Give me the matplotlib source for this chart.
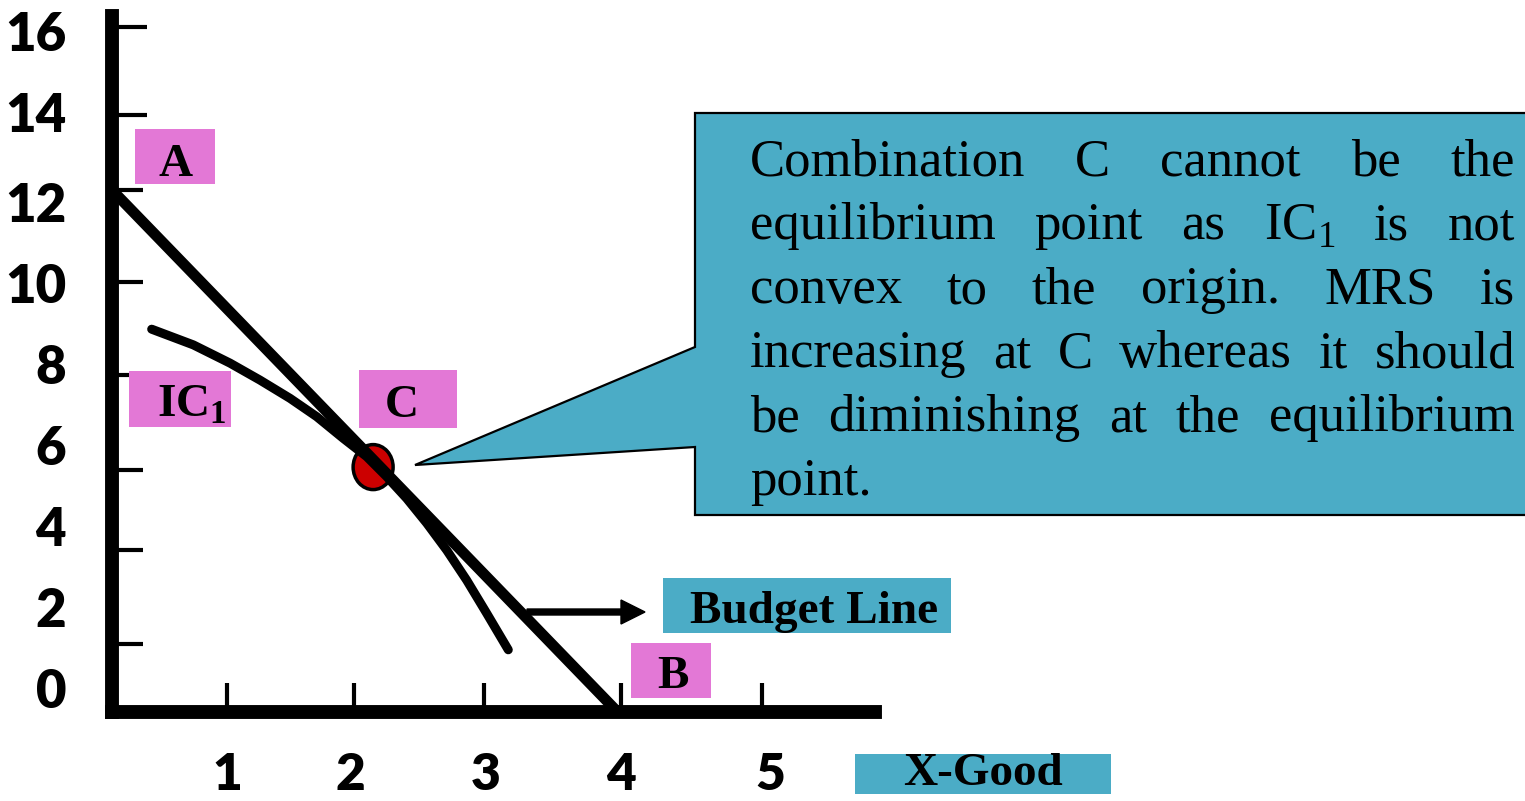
import matplotlib
matplotlib.use('Agg')
import matplotlib.pyplot as plt
from matplotlib.patches import Ellipse, Polygon, Rectangle

plt.rcParams['font.family'] = 'Lato'
plt.rcParams['mathtext.fontset'] = 'custom'
plt.rcParams['mathtext.rm'] = 'Liberation Serif'
plt.rcParams['mathtext.bf'] = 'Liberation Serif:bold'

# ---- chart values ----
budget_x = [0, 3.95]          # A -> B
budget_y = [12, 0]
ic_x = [0.310, 0.635, 0.922, 1.156, 1.391, 1.599, 1.807, 1.990,
        2.146, 2.302, 2.459, 2.615, 2.771, 2.927, 3.096]
ic_y = [8.80, 8.44, 8.02, 7.63, 7.21, 6.79, 6.29, 5.87,
        5.41, 4.91, 4.34, 3.72, 3.03, 2.27, 1.43]
point_c = (2.04, 5.63)

x_tick_marks = [0.90, 1.89, 2.91, 3.98, 5.08]
x_label_pos = [0.90, 1.86, 2.92, 3.98, 5.14]
x_labels = ['1', '2', '3', '4', '5']
y_tick_marks = [1.56, 3.72, 5.56, 7.75, 9.89, 12.0]
y_tick_marks_long = [13.72, 15.75]
y_label_pos = [0.55, 2.41, 4.28, 6.14, 8.0, 9.86, 11.72, 13.79, 15.66]
y_labels = ['0', '2', '4', '6', '8', '10', '12', '14', '16']

callout_lines = [
    "Combination C cannot be the",
    "equilibrium point as IC$_1$ is not",
    "convex to the origin. MRS is",
    "increasing at C whereas it should",
    "be diminishing at the equilibrium",
    "point.",
]

PINK = '#E378D6'
BLUE = '#4BACC6'
SERIF = 'Liberation Serif'

W, H = 1525, 801
fig = plt.figure(figsize=(W / 100, H / 100), dpi=100)

# data axes: y axis line at px 112, x axis line at px 712
ax = fig.add_axes([112 / W, (H - 712) / H, 763 / W, 696 / H])
ax.set_xlim(0, 763 / 128)
ax.set_ylim(0, 696 / 43.5)
ax.set_facecolor('none')
for s in ['top', 'right']:
    ax.spines[s].set_visible(False)
for s in ['left', 'bottom']:
    ax.spines[s].set_linewidth(10)
    ax.spines[s].set_capstyle('projecting')

ax.set_xticks(x_tick_marks)
ax.set_yticks(y_tick_marks)
ax.set_yticks(y_tick_marks_long, minor=True)
ax.tick_params(axis='x', direction='in', length=21, width=3, labelbottom=False)
ax.tick_params(axis='y', which='major', direction='in', length=22, width=3,
               labelleft=False)
ax.tick_params(axis='y', which='minor', direction='in', length=25, width=3,
               labelleft=False)

sx = ax.secondary_xaxis('bottom')
sx.set_xticks(x_label_pos, labels=x_labels, fontweight='heavy')
sx.tick_params(length=0, pad=29, labelsize=37)
sx.spines['bottom'].set_visible(False)

sy = ax.secondary_yaxis('left')
sy.set_yticks(y_label_pos, labels=y_labels, fontweight='heavy')
sy.tick_params(length=0, pad=33, labelsize=38)
sy.spines['left'].set_visible(False)

ax.add_patch(Ellipse(point_c, 40 / 128, 45 / 43.5, facecolor='#CC0000',
                     edgecolor='black', lw=2.5, zorder=2))
ax.plot(budget_x, budget_y, color='black', lw=7.8, solid_capstyle='butt',
        zorder=3, clip_on=False)
ax.plot(ic_x, ic_y, color='black', lw=6.5, solid_capstyle='round',
        solid_joinstyle='round', zorder=3, clip_on=False)

# overlay in pixel units for the annotation shapes
ov = fig.add_axes([0, 0, 1, 1])
ov.set_xlim(0, W)
ov.set_ylim(H, 0)
ov.axis('off')

ov.add_patch(Polygon([(695, 113), (1530, 113), (1530, 515), (695, 515),
                      (695, 447), (415, 465), (695, 347)], closed=True,
                     facecolor=BLUE, edgecolor='black', lw=1.6))

boxes = [
    ('A', (135, 129, 80, 55), PINK, 176, 176, 'center'),
    ('IC$_\\mathbf{1}$', (129, 371, 102, 56), PINK, 157, 417, 'left'),
    ('C', (359, 370, 98, 58), PINK, 402, 417, 'center'),
    ('B', (631, 643, 80, 55), PINK, 673, 688, 'center'),
    ('Budget Line', (663, 578, 288, 55), BLUE, 690, 623, 'left'),
    ('X-Good', (855, 754, 256, 40), BLUE, 903, 785, 'left'),
]
for txt, (bx, by, bw, bh), col, tx, ty, ha in boxes:
    ov.add_patch(Rectangle((bx, by), bw, bh, facecolor=col, edgecolor='none'))
    ov.text(tx, ty, txt, family=SERIF, weight='bold', fontsize=34,
            ha=ha, va='baseline')

ov.arrow(527, 612, 118, 0, width=6, head_width=24, head_length=24,
         length_includes_head=True, color='black')

# justified paragraph inside the callout
renderer = fig.canvas.get_renderer()
left, right = 750, 1515
baselines = [175, 239, 303, 367, 431, 495]
for i, (line, yb) in enumerate(zip(callout_lines, baselines)):
    words = line.split(' ')
    items = [ov.text(0, yb, w, family=SERIF, weight='normal', fontsize=38,
                     ha='left', va='baseline') for w in words]
    widths = [t.get_window_extent(renderer).width for t in items]
    if i < len(callout_lines) - 1 and len(words) > 1:
        gap = (right - left - sum(widths)) / (len(words) - 1)
    else:
        gap = 10
    x = left
    for t, w in zip(items, widths):
        t.set_x(x)
        x += w + gap

fig.savefig('out.png', dpi=100)
